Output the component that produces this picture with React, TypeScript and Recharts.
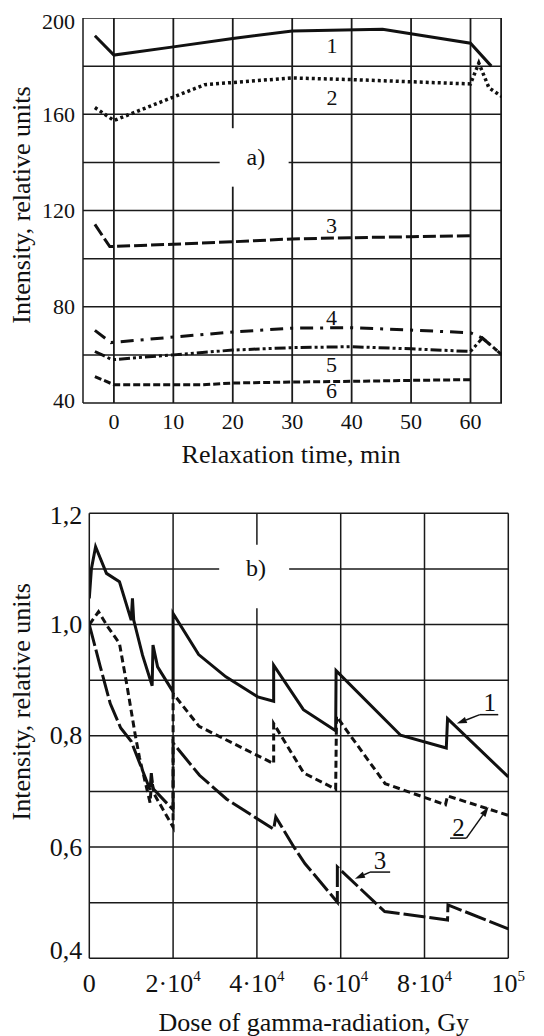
import React from 'react';
import { LineChart, Line, XAxis, YAxis, ReferenceDot, ReferenceLine, ReferenceArea, Label } from 'recharts';

const FONT = '"Liberation Serif", "Times New Roman", Times, serif';
const INK = '#111';
const GRID = '#1a1a1a';

// ---------- chart a) relaxation ----------
const timeDomain = [-5.2, 65.3];
const timeTicks = [0, 10, 20, 30, 40, 50, 60];
const timeGrid = [0, 10, 30, 40, 50, 60, 65.15];
const gridHalfWidthA = 0.15; // in minutes
const intensityDomainA = [40, 200];
const intensityTicksA = [40, 80, 120, 160, 200];
const intensityGridA = [60, 80, 100, 120, 160, 180, 200];
const aGapLineTime = 20;
const aGapLineVal = 140;
const aGapTime = [17.8, 29.4];
const aGapVal = [129.9, 154.2];

const a1Time = [-3.2, 0, 10, 20, 30, 45.2, 60, 63.5];
const a1Val = [192.6, 184.6, 188, 191.5, 194.6, 195.3, 189.5, 180];
const a2Time = [-3.2, 0, 15.3, 30, 40, 50, 60, 61.4, 63.1, 65.3];
const a2Val = [162.8, 157.4, 172.3, 175.1, 174.4, 173.5, 172.6, 181.3, 171, 167.3];
const a3Time = [-3.2, -0.7, 10, 20, 30, 40, 50, 60];
const a3Val = [114.2, 105, 106, 107, 108.2, 108.7, 109.1, 109.5];
const a4Time = [-3.2, -0.5, 10, 20, 30, 40, 50, 60, 62, 65.3];
const a4Val = [70.2, 65.1, 67.4, 69.5, 71.1, 71.3, 70.3, 69.2, 67, 60];
const a5Time = [-3.2, -0.3, 10, 20, 30, 40, 50, 60, 62, 65.3];
const a5Val = [61.4, 58, 60, 62, 63, 63.4, 62.5, 61.4, 67, 60];
const a6Time = [-3.2, 0, 15, 20, 30, 40, 50, 60];
const a6Val = [51, 47.6, 47.6, 48.3, 48.7, 49, 49.4, 49.7];

const aCurveLabels = ['1', '2', '3', '4', '5', '6'];
const aLabelTime = [36.7, 36.7, 36.6, 36.6, 36.6, 36.6];
const aLabelVal = [185.3, 163.8, 110.5, 72.4, 53.0, 41.9];
const aCaption = { text: 'a)', time: 23.9, val: 139.1 };

// ---------- chart b) dose ----------
const doseDomain = [0, 100000];
const doseTicks = [0, 20000, 40000, 60000, 80000, 100000];
const doseTickBase = ['0', '2·10', '4·10', '6·10', '8·10', '10'];
const doseTickExp = ['', '4', '4', '4', '4', '5'];
const doseGrid = [20000, 60000, 80000, 100000];
const intensityTicksB = [0.4, 0.6, 0.8, 1.0, 1.2];
const intensityTickLabelsB = ['0,4', '0,6', '0,8', '1,0', '1,2'];
const intensityGridB = [0.5, 0.6, 0.7, 0.8, 0.9, 1.0, 1.2];
const bGapLineDose = 40000;
const bGapLineVal = 1.1;
const bGapDose = [31000, 47700];
const bGapVal = [1.0295, 1.1433];

const b1Dose = [0, 500, 1500, 4100, 7200, 10000, 10300, 10600, 12700, 15000, 15200, 16300, 20000, 20000, 26100, 32600, 40200, 44000, 44000, 51100, 58800, 58900, 74300, 85200, 85500, 100000];
const b1Val = [1.047, 1.1, 1.14, 1.092, 1.077, 1.008, 1.047, 1.008, 0.945, 0.89, 0.963, 0.924, 0.879, 1.02, 0.946, 0.906, 0.87, 0.862, 0.927, 0.847, 0.809, 0.917, 0.801, 0.778, 0.831, 0.726];
const b2Dose = [0, 2200, 4500, 7200, 9000, 11000, 12000, 14500, 14900, 15500, 20000, 20000, 26200, 44000, 44000, 51200, 58800, 59000, 70600, 85000, 85500, 100000];
const b2Val = [1.0, 1.023, 0.995, 0.966, 0.89, 0.8, 0.76, 0.68, 0.72, 0.695, 0.636, 0.876, 0.817, 0.75, 0.822, 0.733, 0.704, 0.835, 0.714, 0.676, 0.692, 0.657];
const b3Dose = [0, 2600, 5000, 7500, 10000, 14500, 14800, 15200, 20000, 20000, 26300, 32800, 44000, 44500, 49000, 51500, 59200, 59200, 70500, 85500, 85600, 100000];
const b3Val = [1.0, 0.925, 0.858, 0.814, 0.79, 0.703, 0.733, 0.705, 0.667, 0.787, 0.729, 0.686, 0.632, 0.654, 0.598, 0.57, 0.501, 0.564, 0.484, 0.469, 0.496, 0.453];

const bCurveLabels = ['1', '2', '3'];
const bLabelDose = [95600, 88100, 69400];
const bLabelVal = [0.844, 0.619, 0.561];
const bUnderlineFrom = [93200, 86100, 67000];
const bUnderlineTo = [97600, 90000, 71800];
const bUnderlineVal = [0.838, 0.616, 0.555];
const bArrowTailDose = [93200, 90000, 67000];
const bArrowTailVal = [0.838, 0.616, 0.555];
const bArrowTipDose = [87700, 95300, 63400];
const bArrowTipVal = [0.822, 0.672, 0.543];
const bCaption = { text: 'b)', dose: 39800, val: 1.087 };

const zip = (xs: number[], ys: number[]) => xs.map((x, i) => ({ x, y: ys[i] }));

const textShape = (txt: string, size: number) => (p: any) => (
  <text x={p.cx} y={p.cy} textAnchor="middle" fontSize={size} fontFamily={FONT} fill={INK}>{txt}</text>
);

const arrowShape = (p: any) => {
  const { x1, y1, x2, y2 } = p;
  const ang = Math.atan2(y2 - y1, x2 - x1);
  const L = 10, W = 3.2;
  const bx = x2 - L * Math.cos(ang), by = y2 - L * Math.sin(ang);
  const px = -Math.sin(ang) * W, py = Math.cos(ang) * W;
  return (
    <g>
      <line x1={x1} y1={y1} x2={bx} y2={by} stroke={INK} strokeWidth={1.5} />
      <polygon points={`${x2},${y2} ${bx + px},${by + py} ${bx - px},${by - py}`} fill={INK} />
    </g>
  );
};

const TimeTick = (p: any) => (
  <text x={p.x} y={p.y + 25.5} textAnchor="middle" fontSize={22} fontFamily={FONT} fill={INK}>{p.payload.value}</text>
);
const IntATick = (p: any) => {
  const v = p.payload.value;
  const nudge = v === 200 ? 3.5 : v === 40 ? -2 : 0;
  return <text x={p.x - 8} y={p.y + 7.3 + nudge} textAnchor="end" fontSize={22} fontFamily={FONT} fill={INK}>{v}</text>;
};
const DoseTick = (p: any) => {
  const i = doseTicks.indexOf(p.payload.value);
  return (
    <text x={p.x} y={p.y + 34} textAnchor="middle" fontSize={26} fontFamily={FONT} fill={INK}>
      <tspan>{doseTickBase[i]}</tspan>
      {doseTickExp[i] ? <tspan dy={-11} fontSize={15}>{doseTickExp[i]}</tspan> : null}
    </text>
  );
};
const IntBTick = (p: any) => {
  const i = intensityTicksB.findIndex((t) => Math.abs(t - p.payload.value) < 1e-6);
  const nudge = i === 0 ? -8 : i === intensityTicksB.length - 1 ? 2 : 0;
  return <text x={p.x - 7} y={p.y + 8.5 + nudge} textAnchor="end" fontSize={26} fontFamily={FONT} fill={INK}>{intensityTickLabelsB[i]}</text>;
};

const xTitle = (txt: string, dx: number, dy: number) => (props: any) => {
  const vb = props.viewBox;
  return <text x={vb.x + vb.width / 2 + dx} y={vb.y + dy} textAnchor="middle" fontSize={26} fontFamily={FONT} fill={INK}>{txt}</text>;
};
const yTitle = (txt: string, xPos: number, dy: number) => (props: any) => {
  const vb = props.viewBox;
  const cy = vb.y + vb.height / 2 + dy;
  return <text x={xPos} y={cy} transform={`rotate(-90 ${xPos} ${cy})`} textAnchor="middle" fontSize={26} fontFamily={FONT} fill={INK}>{txt}</text>;
};

const lineCommon = { type: 'linear' as const, dataKey: 'y', stroke: INK, dot: false, activeDot: false, isAnimationActive: false };
const gridCommon = { stroke: GRID, strokeWidth: 1.5, ifOverflow: 'visible' as const };
const areaCommon = { fill: GRID, fillOpacity: 1, stroke: 'none', ifOverflow: 'visible' as const };

export default function App() {
  return (
    <div style={{ position: 'absolute', left: 0, top: 0, width: 544, height: 1036, background: '#fff' }}>
      <div style={{ position: 'absolute', left: 0, top: 0 }}>
        <LineChart width={544} height={470} margin={{ top: 18, right: 42, left: 0, bottom: 0 }}>
          {timeGrid.map((t) => (
            <ReferenceArea key={'gv' + t} x1={t - gridHalfWidthA} x2={t + gridHalfWidthA}
              y1={intensityDomainA[0]} y2={intensityDomainA[1]} {...areaCommon} />
          ))}
          <ReferenceArea x1={aGapLineTime - gridHalfWidthA} x2={aGapLineTime + gridHalfWidthA}
            y1={intensityDomainA[0]} y2={aGapVal[0]} {...areaCommon} />
          <ReferenceArea x1={aGapLineTime - gridHalfWidthA} x2={aGapLineTime + gridHalfWidthA}
            y1={aGapVal[1]} y2={intensityDomainA[1]} {...areaCommon} />
          {intensityGridA.map((v) => (
            <Line key={'gh' + v} {...lineCommon} data={zip(timeDomain, [v, v])} stroke={GRID} strokeWidth={1.5} />
          ))}
          <Line {...lineCommon} data={zip([timeDomain[0], aGapTime[0]], [aGapLineVal, aGapLineVal])} stroke={GRID} strokeWidth={1.5} />
          <Line {...lineCommon} data={zip([aGapTime[1], timeDomain[1]], [aGapLineVal, aGapLineVal])} stroke={GRID} strokeWidth={1.5} />
          <XAxis dataKey="x" type="number" domain={timeDomain} ticks={timeTicks} allowDataOverflow height={67}
            tickSize={0} tickMargin={0} tickLine={false} axisLine={{ stroke: GRID, strokeWidth: 1.5 }} tick={<TimeTick />}>
            <Label content={xTitle('Relaxation time, min', -1.5, 60)} />
          </XAxis>
          <YAxis type="number" domain={intensityDomainA} ticks={intensityTicksA} allowDataOverflow width={83}
            tickSize={0} tickMargin={0} tickLine={false} axisLine={{ stroke: GRID, strokeWidth: 1.5 }} tick={<IntATick />}>
            <Label content={yTitle('Intensity, relative units', 30, -5.5)} />
          </YAxis>
          <Line {...lineCommon} data={zip(a1Time, a1Val)} strokeWidth={3} />
          <Line {...lineCommon} data={zip(a2Time, a2Val)} strokeWidth={3.5} strokeDasharray="3 3" />
          <Line {...lineCommon} data={zip(a3Time, a3Val)} strokeWidth={3} strokeDasharray="13 4" />
          <Line {...lineCommon} data={zip(a4Time, a4Val)} strokeWidth={3} strokeDasharray="13 7 3 7" />
          <Line {...lineCommon} data={zip(a5Time, a5Val)} strokeWidth={3} strokeDasharray="11 3 3 3 3 3" />
          <Line {...lineCommon} data={zip(a6Time, a6Val)} strokeWidth={3} strokeDasharray="7 3" />
          <ReferenceDot x={aCaption.time} y={aCaption.val} r={0} shape={textShape(aCaption.text, 24)} />
          {aCurveLabels.map((t, i) => (
            <ReferenceDot key={'al' + i} x={aLabelTime[i]} y={aLabelVal[i]} r={0} shape={textShape(t, 22)} />
          ))}
        </LineChart>
      </div>
      <div style={{ position: 'absolute', left: 0, top: 470 }}>
        <LineChart width={544} height={566} margin={{ top: 43.3, right: 35.7, left: 0, bottom: 0 }}>
          {doseGrid.map((d) => <ReferenceLine key={'gx' + d} x={d} {...gridCommon} />)}
          {intensityGridB.map((v) => <ReferenceLine key={'gy' + v} y={v} {...gridCommon} />)}
          <ReferenceLine segment={[{ x: doseDomain[0], y: bGapLineVal }, { x: bGapDose[0], y: bGapLineVal }]} {...gridCommon} />
          <ReferenceLine segment={[{ x: bGapDose[1], y: bGapLineVal }, { x: doseDomain[1], y: bGapLineVal }]} {...gridCommon} />
          <ReferenceLine segment={[{ x: bGapLineDose, y: 0.4 }, { x: bGapLineDose, y: bGapVal[0] }]} {...gridCommon} />
          <ReferenceLine segment={[{ x: bGapLineDose, y: bGapVal[1] }, { x: bGapLineDose, y: 1.2 }]} {...gridCommon} />
          <XAxis dataKey="x" type="number" domain={doseDomain} ticks={doseTicks} allowDataOverflow height={77.7}
            tickSize={0} tickMargin={0} tickLine={false} axisLine={{ stroke: GRID, strokeWidth: 1.5 }} tick={<DoseTick />}>
            <Label content={xTitle('Dose of gamma-radiation, Gy', 15, 72.7)} />
          </XAxis>
          <YAxis type="number" domain={[0.4, 1.2]} ticks={intensityTicksB} allowDataOverflow width={89.3}
            tickSize={0} tickMargin={0} tickLine={false} axisLine={{ stroke: GRID, strokeWidth: 1.5 }} tick={<IntBTick />}>
            <Label content={yTitle('Intensity, relative units', 30, -34)} />
          </YAxis>
          <Line {...lineCommon} data={zip(b1Dose, b1Val)} strokeWidth={3} />
          <Line {...lineCommon} data={zip(b2Dose, b2Val)} strokeWidth={3} strokeDasharray="7 4" />
          <Line {...lineCommon} data={zip(b3Dose, b3Val)} strokeWidth={3} strokeDasharray="22 4" />
          <ReferenceDot x={bCaption.dose} y={bCaption.val} r={0} shape={textShape(bCaption.text, 24)} />
          {bCurveLabels.map((t, i) => (
            <ReferenceDot key={'bl' + i} x={bLabelDose[i]} y={bLabelVal[i]} r={0} shape={textShape(t, 25)} />
          ))}
          {bCurveLabels.map((t, i) => (
            <ReferenceLine key={'bu' + i} segment={[{ x: bUnderlineFrom[i], y: bUnderlineVal[i] }, { x: bUnderlineTo[i], y: bUnderlineVal[i] }]}
              stroke={INK} strokeWidth={1.5} />
          ))}
          {bCurveLabels.map((t, i) => (
            <ReferenceLine key={'ba' + i} segment={[{ x: bArrowTailDose[i], y: bArrowTailVal[i] }, { x: bArrowTipDose[i], y: bArrowTipVal[i] }]}
              shape={arrowShape} />
          ))}
        </LineChart>
      </div>
    </div>
  );
}
